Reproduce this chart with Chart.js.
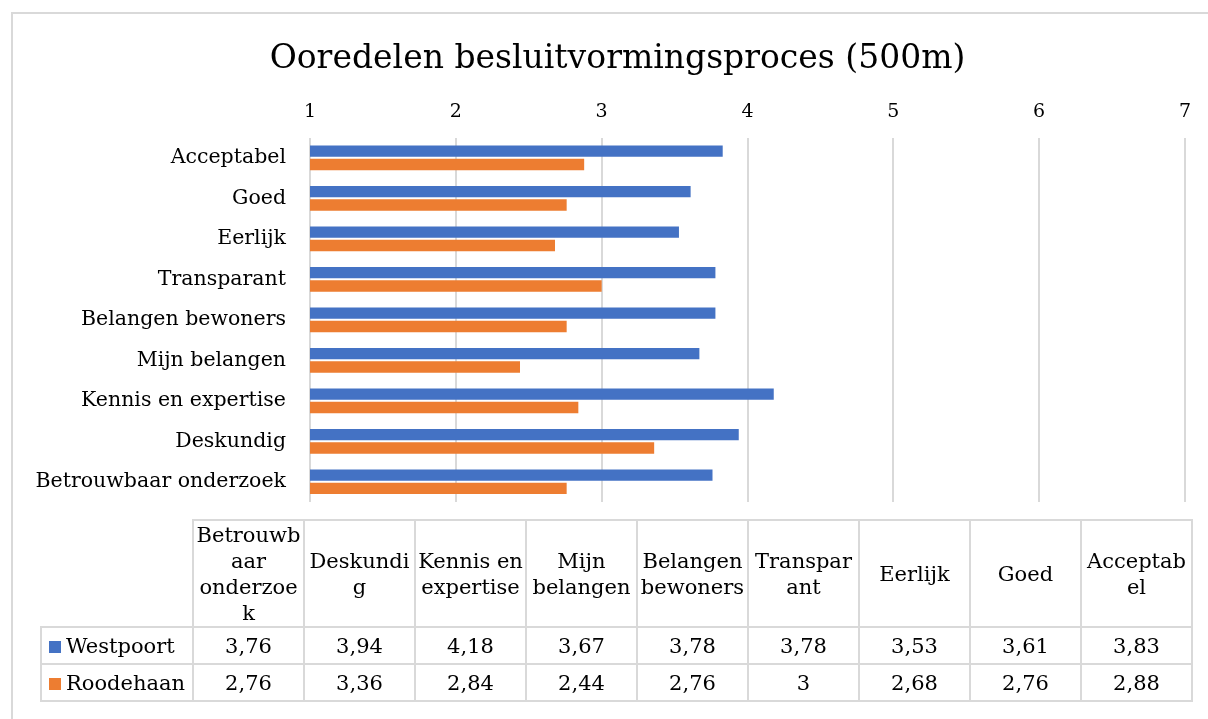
<!DOCTYPE html>
<html>
<head>
<meta charset="utf-8">
<script src="https://cdn.jsdelivr.net/npm/chart.js@4.4.1/dist/chart.umd.min.js"></script>
<style>
	body { margin: 0; background: #fff; font-family: 'DejaVu Serif', serif; }
	#wrap { position: relative; width: 1208px; height: 719px; overflow: hidden; }
	#frame { position: absolute; left: 11px; top: 12px; width: 1300px; height: 800px; border-left: 2px solid #d9d9d9; border-top: 2px solid #d9d9d9; }
	#chart { position: absolute; left: 0; top: 0; }
	#tbl { position: absolute; left: 40px; top: 519px; border-collapse: collapse; font-size: 21px; color: #000; }
	#tbl td { border: 2px solid #d9d9d9; text-align: center; padding: 0; white-space: nowrap; }
	#tbl td.blank { border-top: none; border-left: none; }
	#tbl tr.head td { height: 105px; line-height: 26px; width: 109px; }
	#tbl tr.row td { height: 35px; }
	#tbl td.lbl { text-align: left; padding-left: 7px; width: 143px; }
	.key { display: inline-block; width: 12px; height: 12px; margin-right: 5px; }
</style>
</head>
<body>
<div id="wrap">
	<div id="frame"></div>
	<canvas id="chart" width="1208" height="719"></canvas>
	<table id="tbl"></table>
</div>
<script>
// categorieen in tabelvolgorde (onderaan in de grafiek beginnend)
const categories = ['Betrouwbaar onderzoek', 'Deskundig', 'Kennis en expertise', 'Mijn belangen', 'Belangen bewoners', 'Transparant', 'Eerlijk', 'Goed', 'Acceptabel'];
const headLines = [['Betrouwb', 'aar', 'onderzoe', 'k'], ['Deskundi', 'g'], ['Kennis en', 'expertise'], ['Mijn', 'belangen'], ['Belangen', 'bewoners'], ['Transpar', 'ant'], ['Eerlijk'], ['Goed'], ['Acceptab', 'el']];
const westpoort = [3.76, 3.94, 4.18, 3.67, 3.78, 3.78, 3.53, 3.61, 3.83];
const roodehaan = [2.76, 3.36, 2.84, 2.44, 2.76, 3, 2.68, 2.76, 2.88];
const seriesNames = ['Westpoort', 'Roodehaan'];
const seriesColors = ['#4472C4', '#ED7D31'];
const xTicks = [1, 2, 3, 4, 5, 6, 7];

const fontName = "'DejaVu Serif', serif";

// titel iets naar rechts, midden boven het hele kader
const titleShift = {
	id: 'titleShift',
	afterLayout: function(chart) {
		if (chart.titleBlock) {
			chart.titleBlock.left = 50;
			chart.titleBlock.right = 1185;
		}
	}
};

new Chart(document.getElementById('chart'), {
	type: 'bar',
	data: {
		labels: categories,
		datasets: [
			{label: seriesNames[0], data: westpoort, backgroundColor: seriesColors[0]},
			{label: seriesNames[1], data: roodehaan, backgroundColor: seriesColors[1]}
		]
	},
	options: {
		indexAxis: 'y',
		responsive: false,
		animation: false,
		categoryPercentage: 0.66,
		barPercentage: 0.85,
		layout: {padding: {left: 0, right: 23, top: 12, bottom: 217}},
		plugins: {
			legend: {display: false},
			tooltip: {enabled: false},
			title: {
				display: true,
				text: 'Ooredelen besluitvormingsproces (500m)',
				color: '#000',
				font: {family: fontName, size: 33, weight: 'normal', lineHeight: 1.2},
				padding: {top: 28, bottom: 0}
			}
		},
		scales: {
			x: {
				position: 'top',
				min: 1,
				max: 7,
				afterBuildTicks: function(scale) {
					scale.ticks = xTicks.map(v => ({value: v}));
				},
				afterFit: function(scale) {
					scale.height = 58;
				},
				grid: {color: '#d9d9d9', lineWidth: 2, drawTicks: false},
				border: {display: false},
				ticks: {color: '#000', padding: 14, font: {family: fontName, size: 19}}
			},
			y: {
				reverse: true,
				afterFit: function(scale) {
					scale.width = 310;
				},
				grid: {display: false},
				border: {display: false},
				ticks: {color: '#000', padding: 16, font: {family: fontName, size: 20.5}}
			}
		}
	},
	plugins: [titleShift]
});

// datatabel onder de grafiek
let html = '<tr class="head"><td class="blank"></td>';
headLines.forEach(function(lines) {
	html += '<td>' + lines.join('<br>') + '</td>';
});
html += '</tr>';
[westpoort, roodehaan].forEach(function(values, s) {
	html += '<tr class="row"><td class="lbl"><span class="key" style="background:' + seriesColors[s] + '"></span>' + seriesNames[s] + '</td>';
	values.forEach(function(v) {
		html += '<td>' + String(v).replace('.', ',') + '</td>';
	});
	html += '</tr>';
});
document.getElementById('tbl').innerHTML = html;
</script>
</body>
</html>
